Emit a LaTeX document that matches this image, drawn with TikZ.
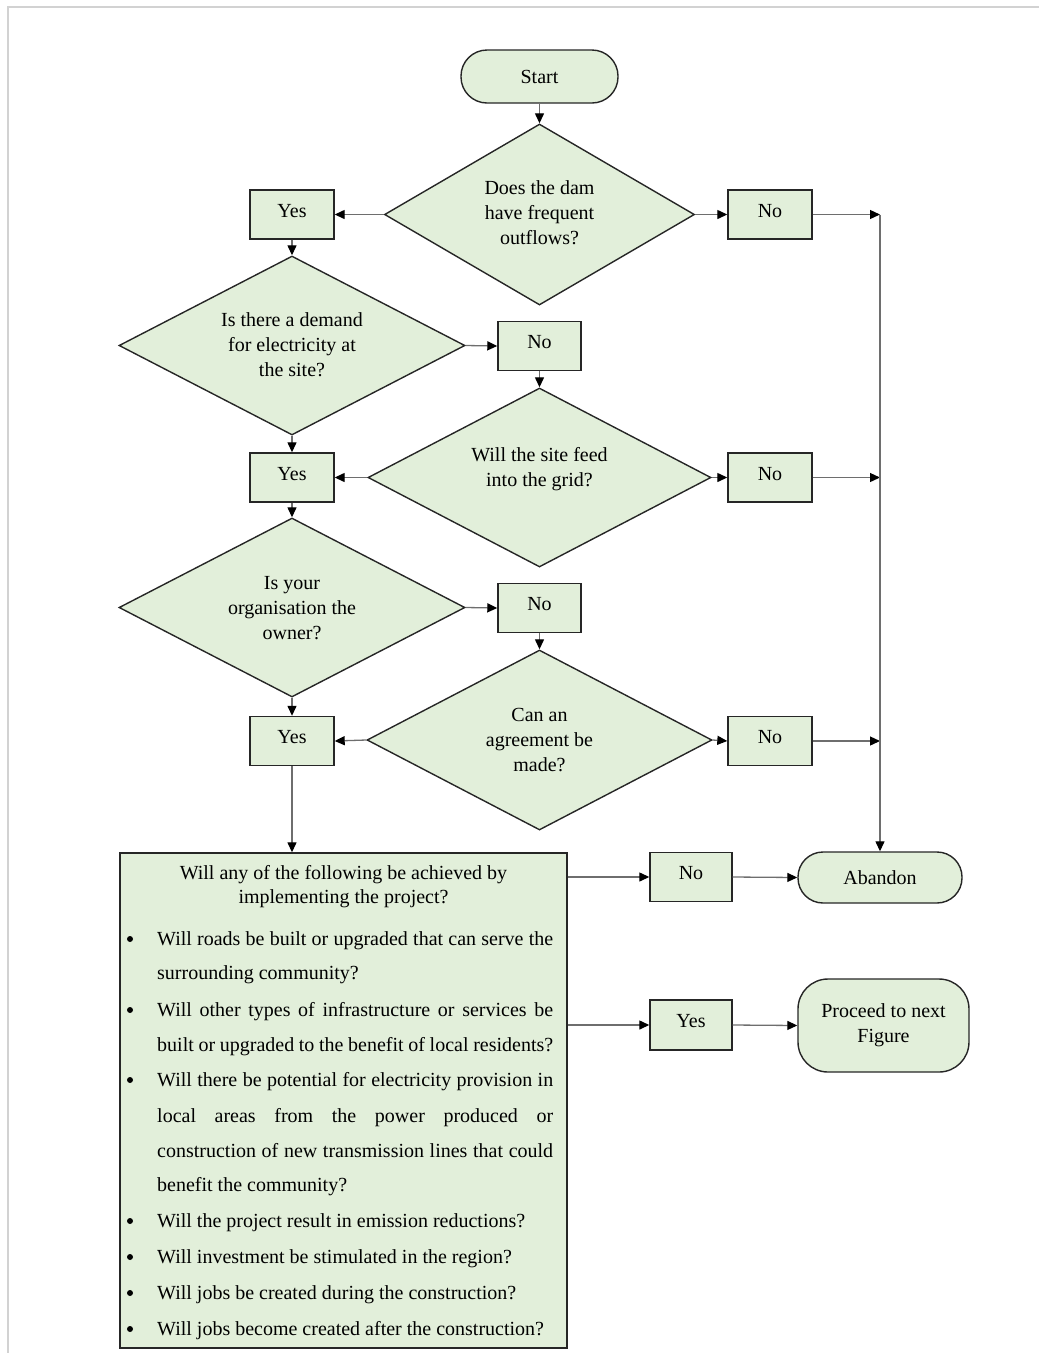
\documentclass[tikz,border=0pt]{standalone}
\usepackage{fontspec}
\setmainfont{Liberation Serif}
\usetikzlibrary{shapes.geometric,arrows.meta}
\definecolor{boxfill}{HTML}{E2EFDA}
\definecolor{edgecol}{HTML}{262626}
\definecolor{conncol}{HTML}{6E6E6E}
\definecolor{framecol}{HTML}{D2D2D2}
\newcommand\jline[1]{\hbox to 396pt{#1}}
\begin{document}
\begin{tikzpicture}[x=1pt,y=-1pt,
 font=\fontsize{20}{25}\selectfont,
 shapebase/.style={draw=edgecol,line width=1.4pt,fill=boxfill},
 ansbox/.style={shapebase,rectangle,minimum width=84pt,minimum height=49pt,inner sep=0pt,text height=14pt,text depth=9pt},
 terminal/.style={shapebase,rectangle,inner sep=0pt},
 decision/.style={shapebase,diamond,inner sep=0pt},
 lbl/.style={inner sep=0pt,align=center},
 txtline/.style={inner sep=0pt,anchor=base west},
 hdline/.style={inner sep=0pt,anchor=base},
 conn/.style={draw=conncol,line width=1.3pt,-{Triangle[length=10pt,width=9pt,color=black]}},
]
\useasboundingbox (0,0) rectangle (1039,1353);
\draw[framecol,line width=2pt] (8,1353) -- (8,7) -- (1039,7);

% top flow
\node[terminal,rounded corners=26pt,minimum width=157pt,minimum height=53pt] (start) at (539.5,76.5) {Start};
\node[decision,minimum width=310pt,minimum height=181pt] (d1) at (539.5,214.5) {};
\node[lbl] (t1) at (539.5,213) {Does the dam\\have frequent\\outflows?};
\node[ansbox] (y1) at (292,214.5) {Yes};
\node[ansbox] (n1) at (770,214.5) {No};

\node[decision,minimum width=346pt,minimum height=179pt] (d2) at (292,345.5) {};
\node[lbl] (t2) at (292,344.5) {Is there a demand\\for electricity at\\the site?};
\node[ansbox,minimum width=83pt] (n2) at (539.5,346) {No};

\node[decision,minimum width=343pt,minimum height=179pt] (d3) at (539.5,477.5) {};
\node[lbl] (t3) at (539.5,469.5) {Will the site feed\\into the grid?};
\node[ansbox] (y2) at (292,477.5) {Yes};
\node[ansbox] (n3) at (770,477.5) {No};

\node[decision,minimum width=346pt,minimum height=179pt] (d4) at (292,607.5) {};
\node[lbl] (t4) at (292,608) {Is your\\organisation the\\owner?};
\node[ansbox,minimum width=83pt] (n4) at (539.5,608) {No};

\node[decision,minimum width=345pt,minimum height=180pt] (d5) at (539.5,740) {};
\node[lbl] (t5) at (539.5,740) {Can an\\agreement be\\made?};
\node[ansbox] (y3) at (292,741) {Yes};
\node[ansbox] (n5) at (770,741) {No};

% big question box
\node[shapebase,rectangle,minimum width=447pt,minimum height=495pt,inner sep=0pt] (big) at (343.5,1100.5) {};
\node[hdline] (h1) at (343.5,879) {Will any of the following be achieved by};
\node[hdline] (h2) at (343.5,903) {implementing the project?};

\node[txtline] (l1) at (157,945) {\jline{Will roads be built or upgraded that can serve the}};
\node[txtline] (l2) at (157,979) {surrounding community?};
\node[txtline] (l3) at (157,1016) {\jline{Will other types of infrastructure or services be}};
\node[txtline] (l4) at (157,1051) {\jline{built or upgraded to the benefit of local residents?}};
\node[txtline] (l5) at (157,1086) {\jline{Will there be potential for electricity provision in}};
\node[txtline] (l6) at (157,1122) {\jline{local areas from the power produced or}};
\node[txtline] (l7) at (157,1157) {\jline{construction of new transmission lines that could}};
\node[txtline] (l8) at (157,1191) {benefit the community?};
\node[txtline] (l9) at (157,1227) {Will the project result in emission reductions?};
\node[txtline] (l10) at (157,1263) {Will investment be stimulated in the region?};
\node[txtline] (l11) at (157,1299) {Will jobs be created during the construction?};
\node[txtline] (l12) at (157,1335) {Will jobs become created after the construction?};
\foreach \yy in {939,1010,1080,1221,1257,1293,1329} \fill (130,\yy) circle (3pt);

% right side
\node[ansbox,minimum width=82pt,minimum height=49pt] (n6) at (691,877) {No};
\node[terminal,rounded corners=25pt,minimum width=164pt,minimum height=51pt] (ab) at (880,877.5) {Abandon};
\node[ansbox,minimum width=82pt,minimum height=50pt] (y4) at (691,1025) {Yes};
\node[terminal,rounded corners=30pt,minimum width=171pt,minimum height=93pt,align=center] (pr) at (883.5,1025.5) {Proceed to next\\Figure};

\coordinate (j1) at (880,214.5);
\coordinate (j3) at (880,477.5);
\coordinate (j5) at (880,741);

% connectors
\draw[conn] (start.south) -- (d1.north);
\draw[conn] (d1.west) -- (y1.east);
\draw[conn] (d1.east) -- (n1.west);
\draw[conn] (y1.south) -- (d2.north);
\draw[conn] (d2.east) -- (n2.west);
\draw[conn] (n2.south) -- (d3.north);
\draw[conn] (d2.south) -- (y2.north);
\draw[conn] (d3.west) -- (y2.east);
\draw[conn] (d3.east) -- (n3.west);
\draw[conn] (y2.south) -- (d4.north);
\draw[conn] (d4.east) -- (n4.west);
\draw[conn] (n4.south) -- (d5.north);
\draw[conn] (d4.south) -- (y3.north);
\draw[conn] (d5.west) -- (y3.east);
\draw[conn] (d5.east) -- (n5.west);
\draw[conn] (y3.south) -- (y3.south |- big.north);
\draw[conn] (n1.east) -- (j1);
\draw[conn] (n3.east) -- (j3);
\draw[conn] (n5.east) -- (j5);
\draw[conn] (j1) -- (ab.north);
\draw[conn] (n6.west -| big.east) -- (n6.west);
\draw[conn] (n6.east) -- (ab.west);
\draw[conn] (y4.west -| big.east) -- (y4.west);
\draw[conn] (y4.east) -- (pr.west);
\end{tikzpicture}
\end{document}
